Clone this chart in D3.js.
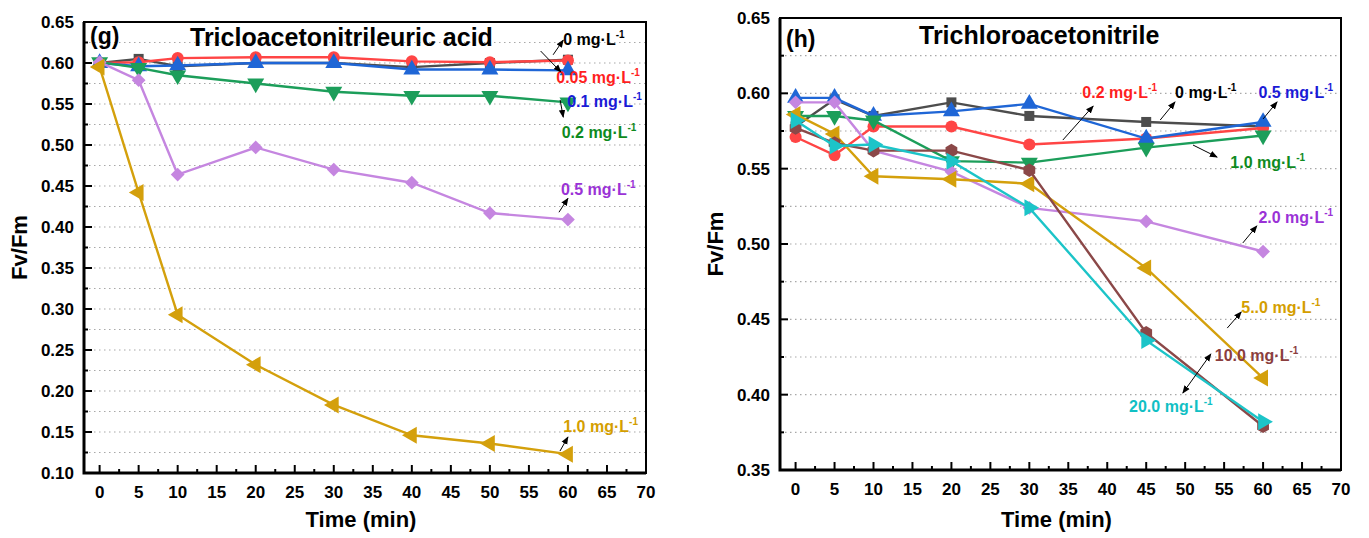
<!DOCTYPE html>
<html>
<head>
<meta charset="utf-8">
<script src="https://cdn.jsdelivr.net/npm/d3@7"></script>
<style>
  body { margin: 0; background: #fff; }
  svg text { font-family: "Liberation Sans", Arial, sans-serif; font-weight: bold; }
</style>
</head>
<body>
<svg id="chart" width="1369" height="538"></svg>
<script>
// ---- data ----
const timesG = [0, 5, 10, 20, 30, 40, 50, 60];
const concG = ["0", "0.05", "0.1", "0.2", "0.5", "1.0"];
const g_0    = [0.600, 0.605, 0.596, 0.600, 0.600, 0.595, 0.600, 0.604];
const g_005  = [0.600, 0.601, 0.606, 0.607, 0.607, 0.602, 0.601, 0.603];
const g_01   = [0.600, 0.596, 0.597, 0.600, 0.600, 0.592, 0.592, 0.591];
const g_02   = [0.601, 0.594, 0.585, 0.575, 0.565, 0.560, 0.560, 0.552];
const g_05   = [0.601, 0.579, 0.464, 0.497, 0.470, 0.454, 0.417, 0.409];
const g_10   = [0.595, 0.442, 0.293, 0.232, 0.183, 0.146, 0.136, 0.123];

const timesH = [0, 5, 10, 20, 30, 45, 60];
const concH = ["0", "0.2", "0.5", "1.0", "2.0", "5..0", "10.0", "20.0"];
const h_0   = [0.578, 0.596, 0.585, 0.594, 0.585, 0.581, 0.578];
const h_02  = [0.571, 0.559, 0.578, 0.578, 0.566, 0.570, 0.577];
const h_05  = [0.597, 0.597, 0.585, 0.588, 0.593, 0.570, 0.581];
const h_10  = [0.585, 0.585, 0.582, 0.555, 0.554, 0.564, 0.572];
const h_20  = [0.594, 0.594, 0.562, 0.548, 0.524, 0.515, 0.495];
const h_50  = [0.586, 0.573, 0.545, 0.543, 0.540, 0.484, 0.411];
const h_100 = [0.577, 0.567, 0.562, 0.562, 0.549, 0.441, 0.379];
const h_200 = [0.582, 0.565, 0.566, 0.555, 0.524, 0.436, 0.382];

const xTicks = d3.range(0, 71, 5);
const xMinor = d3.range(2.5, 70, 5);

// ---- styles ----
const col = {
  black: "#4d4d4d", red: "#ff4545", blue: "#1f66d6", green: "#1c9e5a",
  purple: "#c586e0", gold: "#d4a00c", brown: "#8b4848", cyan: "#1cc4c8"
};
const txtCol = {
  black: "#000", red: "#ff1f1f", blue: "#1a1ad6", green: "#0e8a1e",
  purple: "#9a32d6", gold: "#d49e00", brown: "#8b3e3e", cyan: "#10c0c4"
};

const symbolHexagon = {
  draw(ctx, size) {
    const r = Math.sqrt(size / (1.5 * Math.sqrt(3)));
    for (let i = 0; i < 6; i++) {
      const a = Math.PI / 3 * i + Math.PI / 6;
      if (i === 0) ctx.moveTo(r * Math.cos(a), r * Math.sin(a));
      else ctx.lineTo(r * Math.cos(a), r * Math.sin(a));
    }
    ctx.closePath();
  }
};
const marks = {
  square:  { type: d3.symbolSquare, size: 100, rot: 0 },
  circle:  { type: d3.symbolCircle, size: 115, rot: 0 },
  up:      { type: d3.symbolTriangle, size: 125, rot: 0 },
  down:    { type: d3.symbolTriangle, size: 125, rot: 180 },
  diamond: { type: d3.symbolSquare, size: 95, rot: 45 },
  left:    { type: d3.symbolTriangle, size: 125, rot: -90 },
  right:   { type: d3.symbolTriangle, size: 125, rot: 90 },
  hex:     { type: symbolHexagon, size: 120, rot: 0 }
};

const svg = d3.select("#chart");
svg.append("defs").append("marker")
  .attr("id", "arr").attr("viewBox", "0 0 10 10")
  .attr("refX", 9).attr("refY", 5)
  .attr("markerWidth", 8).attr("markerHeight", 8)
  .attr("markerUnits", "userSpaceOnUse")
  .attr("orient", "auto-start-reverse")
  .append("path").attr("d", "M0,1 L10,5 L0,9 Z").attr("fill", "#000");

function addConc(sel, label) {
  sel.append("tspan").text(label + " mg\u00b7L");
  sel.append("tspan").attr("dy", -7).attr("font-size", 10).text("-1");
}

function drawPanel(p) {
  const x = d3.scaleLinear().domain([-2, 70]).range(p.xr);
  const y = d3.scaleLinear().domain(p.yd).range(p.yr);
  const g = svg.append("g");

  // dotted grid every 0.025
  const gridVals = d3.range(p.yd[0] + 0.025, p.yd[1] + 0.001, 0.025).filter(v => v < p.yd[1] - 0.001);
  g.selectAll(".grid").data(gridVals).join("line")
    .attr("x1", p.xr[0]).attr("x2", p.xr[1])
    .attr("y1", d => y(d)).attr("y2", d => y(d))
    .attr("stroke", "#a8a8a8").attr("stroke-width", 1.2).attr("stroke-dasharray", "1.5,3.5");

  // series
  p.series.forEach(s => {
    const pts = p.times.map((t, i) => [t, s.v[i]]);
    g.append("path").datum(pts)
      .attr("fill", "none").attr("stroke", col[s.c]).attr("stroke-width", 2.4)
      .attr("d", d3.line().x(d => x(d[0])).y(d => y(d[1])));
    const m = marks[s.m];
    g.selectAll(null).data(pts).join("path")
      .attr("d", d3.symbol().type(m.type).size(m.size))
      .attr("transform", d => `translate(${x(d[0])},${y(d[1])}) rotate(${m.rot})`)
      .attr("fill", col[s.c]);
  });

  // frame
  g.append("rect").attr("x", p.xr[0]).attr("y", p.yr[1])
    .attr("width", p.xr[1] - p.xr[0]).attr("height", p.yr[0] - p.yr[1])
    .attr("fill", "none").attr("stroke", "#000").attr("stroke-width", 2);
  g.append("path")
    .attr("d", `M${p.xr[0]},${p.yr[1]}V${p.yr[0]}H${p.xr[1]}`)
    .attr("fill", "none").attr("stroke", "#000").attr("stroke-width", 3);

  // x ticks (inward)
  g.selectAll(".xt").data(xTicks).join("line")
    .attr("x1", d => x(d)).attr("x2", d => x(d))
    .attr("y1", p.yr[0]).attr("y2", p.yr[0] - 8)
    .attr("stroke", "#000").attr("stroke-width", 2);
  g.selectAll(".xm").data(xMinor).join("line")
    .attr("x1", d => x(d)).attr("x2", d => x(d))
    .attr("y1", p.yr[0]).attr("y2", p.yr[0] - 4)
    .attr("stroke", "#000").attr("stroke-width", 2);
  g.selectAll(".xl").data(xTicks).join("text")
    .attr("x", d => x(d)).attr("y", p.yr[0] + 25)
    .attr("text-anchor", "middle").attr("font-size", 17).text(d => d);

  // y ticks (inward)
  const yMaj = d3.range(p.yd[0], p.yd[1] + 0.001, 0.05);
  g.selectAll(".yt").data(yMaj).join("line")
    .attr("x1", p.xr[0]).attr("x2", p.xr[0] + 8)
    .attr("y1", d => y(d)).attr("y2", d => y(d))
    .attr("stroke", "#000").attr("stroke-width", 2);
  g.selectAll(".ym").data(yMaj.slice(1).map(v => v - 0.025)).join("line")
    .attr("x1", p.xr[0]).attr("x2", p.xr[0] + 4)
    .attr("y1", d => y(d)).attr("y2", d => y(d))
    .attr("stroke", "#000").attr("stroke-width", 2);
  g.selectAll(".yl").data(yMaj).join("text")
    .attr("x", p.xr[0] - 10).attr("y", d => y(d) + 6)
    .attr("text-anchor", "end").attr("font-size", 17).text(d => d.toFixed(2));

  // axis titles
  g.append("text").attr("x", (p.xr[0] + p.xr[1]) / 2 - 4).attr("y", 527)
    .attr("text-anchor", "middle").attr("font-size", 22).text("Time (min)");
  g.append("text")
    .attr("transform", `translate(${p.xr[0] - 57},${(p.yr[0] + p.yr[1]) / 2}) rotate(-90)`)
    .attr("text-anchor", "middle").attr("font-size", 22).text("Fv/Fm");

  // panel letter and title
  g.append("text").attr("x", p.xr[0] + 6).attr("y", p.letterY)
    .attr("font-size", 23).text(p.letter);
  g.append("text").attr("x", p.titleX).attr("y", p.titleY)
    .attr("font-size", 25).text(p.title);

  // concentration labels
  p.labels.forEach(l => {
    const t = g.append("text").attr("x", x(l.t)).attr("y", y(l.v))
      .attr("font-size", 16).attr("fill", txtCol[l.c]);
    addConc(t, l.text);
  });
  p.arrows.forEach(a => {
    g.append("line")
      .attr("x1", x(a[0])).attr("y1", y(a[1]))
      .attr("x2", x(a[2])).attr("y2", y(a[3]))
      .attr("stroke", "#000").attr("stroke-width", 1)
      .attr("marker-end", "url(#arr)")
      .attr("marker-start", a[4] ? "url(#arr)" : null);
  });
}

drawPanel({
  xr: [84, 646], yr: [473, 22], yd: [0.10, 0.65],
  times: timesG, letter: "(g)", letterY: 44,
  title: "Tricloacetonitrileuric acid", titleX: 190, titleY: 46,
  series: [
    { v: g_0, c: "black", m: "square" },
    { v: g_005, c: "red", m: "circle" },
    { v: g_01, c: "blue", m: "up" },
    { v: g_02, c: "green", m: "down" },
    { v: g_05, c: "purple", m: "diamond" },
    { v: g_10, c: "gold", m: "left" }
  ],
  labels: [
    { text: concG[0], t: 59.4, v: 0.622, c: "black" },
    { text: concG[1], t: 58.5, v: 0.5756, c: "red" },
    { text: concG[2], t: 59.9, v: 0.5463, c: "blue" },
    { text: concG[3], t: 59.2, v: 0.5085, c: "green" },
    { text: concG[4], t: 59.1, v: 0.439, c: "purple" },
    { text: concG[5], t: 59.4, v: 0.150, c: "gold" }
  ],
  arrows: [
    [58.1, 0.610, 59.4, 0.628],
    [56.5, 0.6146, 59.1, 0.589],
    [59.0, 0.5549, 59.4, 0.534],
    [58.85, 0.418, 60.0, 0.435],
    [58.98, 0.1268, 60.0, 0.1439]
  ]
});

drawPanel({
  xr: [780, 1341], yr: [470, 18], yd: [0.35, 0.65],
  times: timesH, letter: "(h)", letterY: 47,
  title: "Trichloroacetonitrile", titleX: 919, titleY: 44,
  series: [
    { v: h_0, c: "black", m: "square" },
    { v: h_02, c: "red", m: "circle" },
    { v: h_05, c: "blue", m: "up" },
    { v: h_10, c: "green", m: "down" },
    { v: h_20, c: "purple", m: "diamond" },
    { v: h_50, c: "gold", m: "left" },
    { v: h_100, c: "brown", m: "hex" },
    { v: h_200, c: "cyan", m: "right" }
  ],
  labels: [
    { text: concH[1], t: 36.8, v: 0.5969, c: "red" },
    { text: concH[0], t: 48.7, v: 0.5969, c: "black" },
    { text: concH[2], t: 59.4, v: 0.5969, c: "blue" },
    { text: concH[3], t: 55.8, v: 0.5504, c: "green" },
    { text: concH[4], t: 59.4, v: 0.5139, c: "purple" },
    { text: concH[5], t: 57.2, v: 0.4542, c: "gold" },
    { text: concH[6], t: 53.8, v: 0.4223, c: "brown" },
    { text: concH[7], t: 42.8, v: 0.3885, c: "cyan" }
  ],
  arrows: [
    [34.3, 0.569, 38.2, 0.5916],
    [46.8, 0.5823, 48.7, 0.5943],
    [60.0, 0.583, 61.8, 0.5943],
    [51.0, 0.5657, 54.1, 0.5577],
    [57.4, 0.5007, 59.2, 0.512],
    [55.4, 0.4442, 57.2, 0.4549],
    [49.7, 0.4011, 53.3, 0.427, true]
  ]
});
</script>
</body>
</html>
